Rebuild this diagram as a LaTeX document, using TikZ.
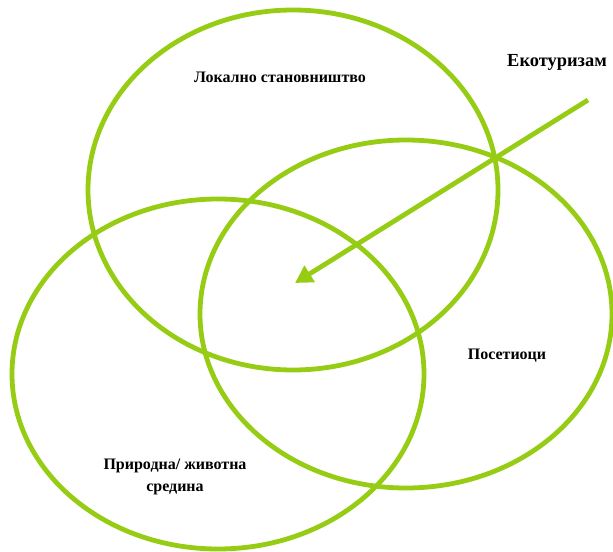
\documentclass[tikz,border=0pt]{standalone}
\usepackage{fontspec}
\setmainfont{Liberation Serif}
\usetikzlibrary{arrows.meta}
\definecolor{lime}{RGB}{150,204,20}
\tikzset{
  ring/.style={draw=lime,line width=3.6pt},
  lbl/.style={font=\bfseries\fontsize{12}{16.5}\selectfont,align=center},
}
\begin{document}
\begin{tikzpicture}[x=0.75pt,y=-0.75pt]
\useasboundingbox (0,0) rectangle (613,552);

% three circles
\draw[ring] (293,190) ellipse [x radius=205,y radius=180];
\draw[ring] (406,314) ellipse [x radius=206,y radius=174];
\draw[ring] (218,374) ellipse [x radius=206,y radius=175];

\node[lbl] (local) at (280,77) {Локално становништво};
\node[lbl] (visit) at (507,356) {Посетиоци};
\node[lbl] (nature) at (175,477) {Природна/ животна\\средина};
\node[lbl,font=\bfseries\fontsize{13.8}{16}\selectfont] (eco) at (557,62) {Екотуризам};

\coordinate (start) at (588,100);
\coordinate (tip) at (295,283);
\draw[ring,-{Triangle[length=13pt,width=14pt]}] (start) -- (tip);
\end{tikzpicture}
\end{document}
